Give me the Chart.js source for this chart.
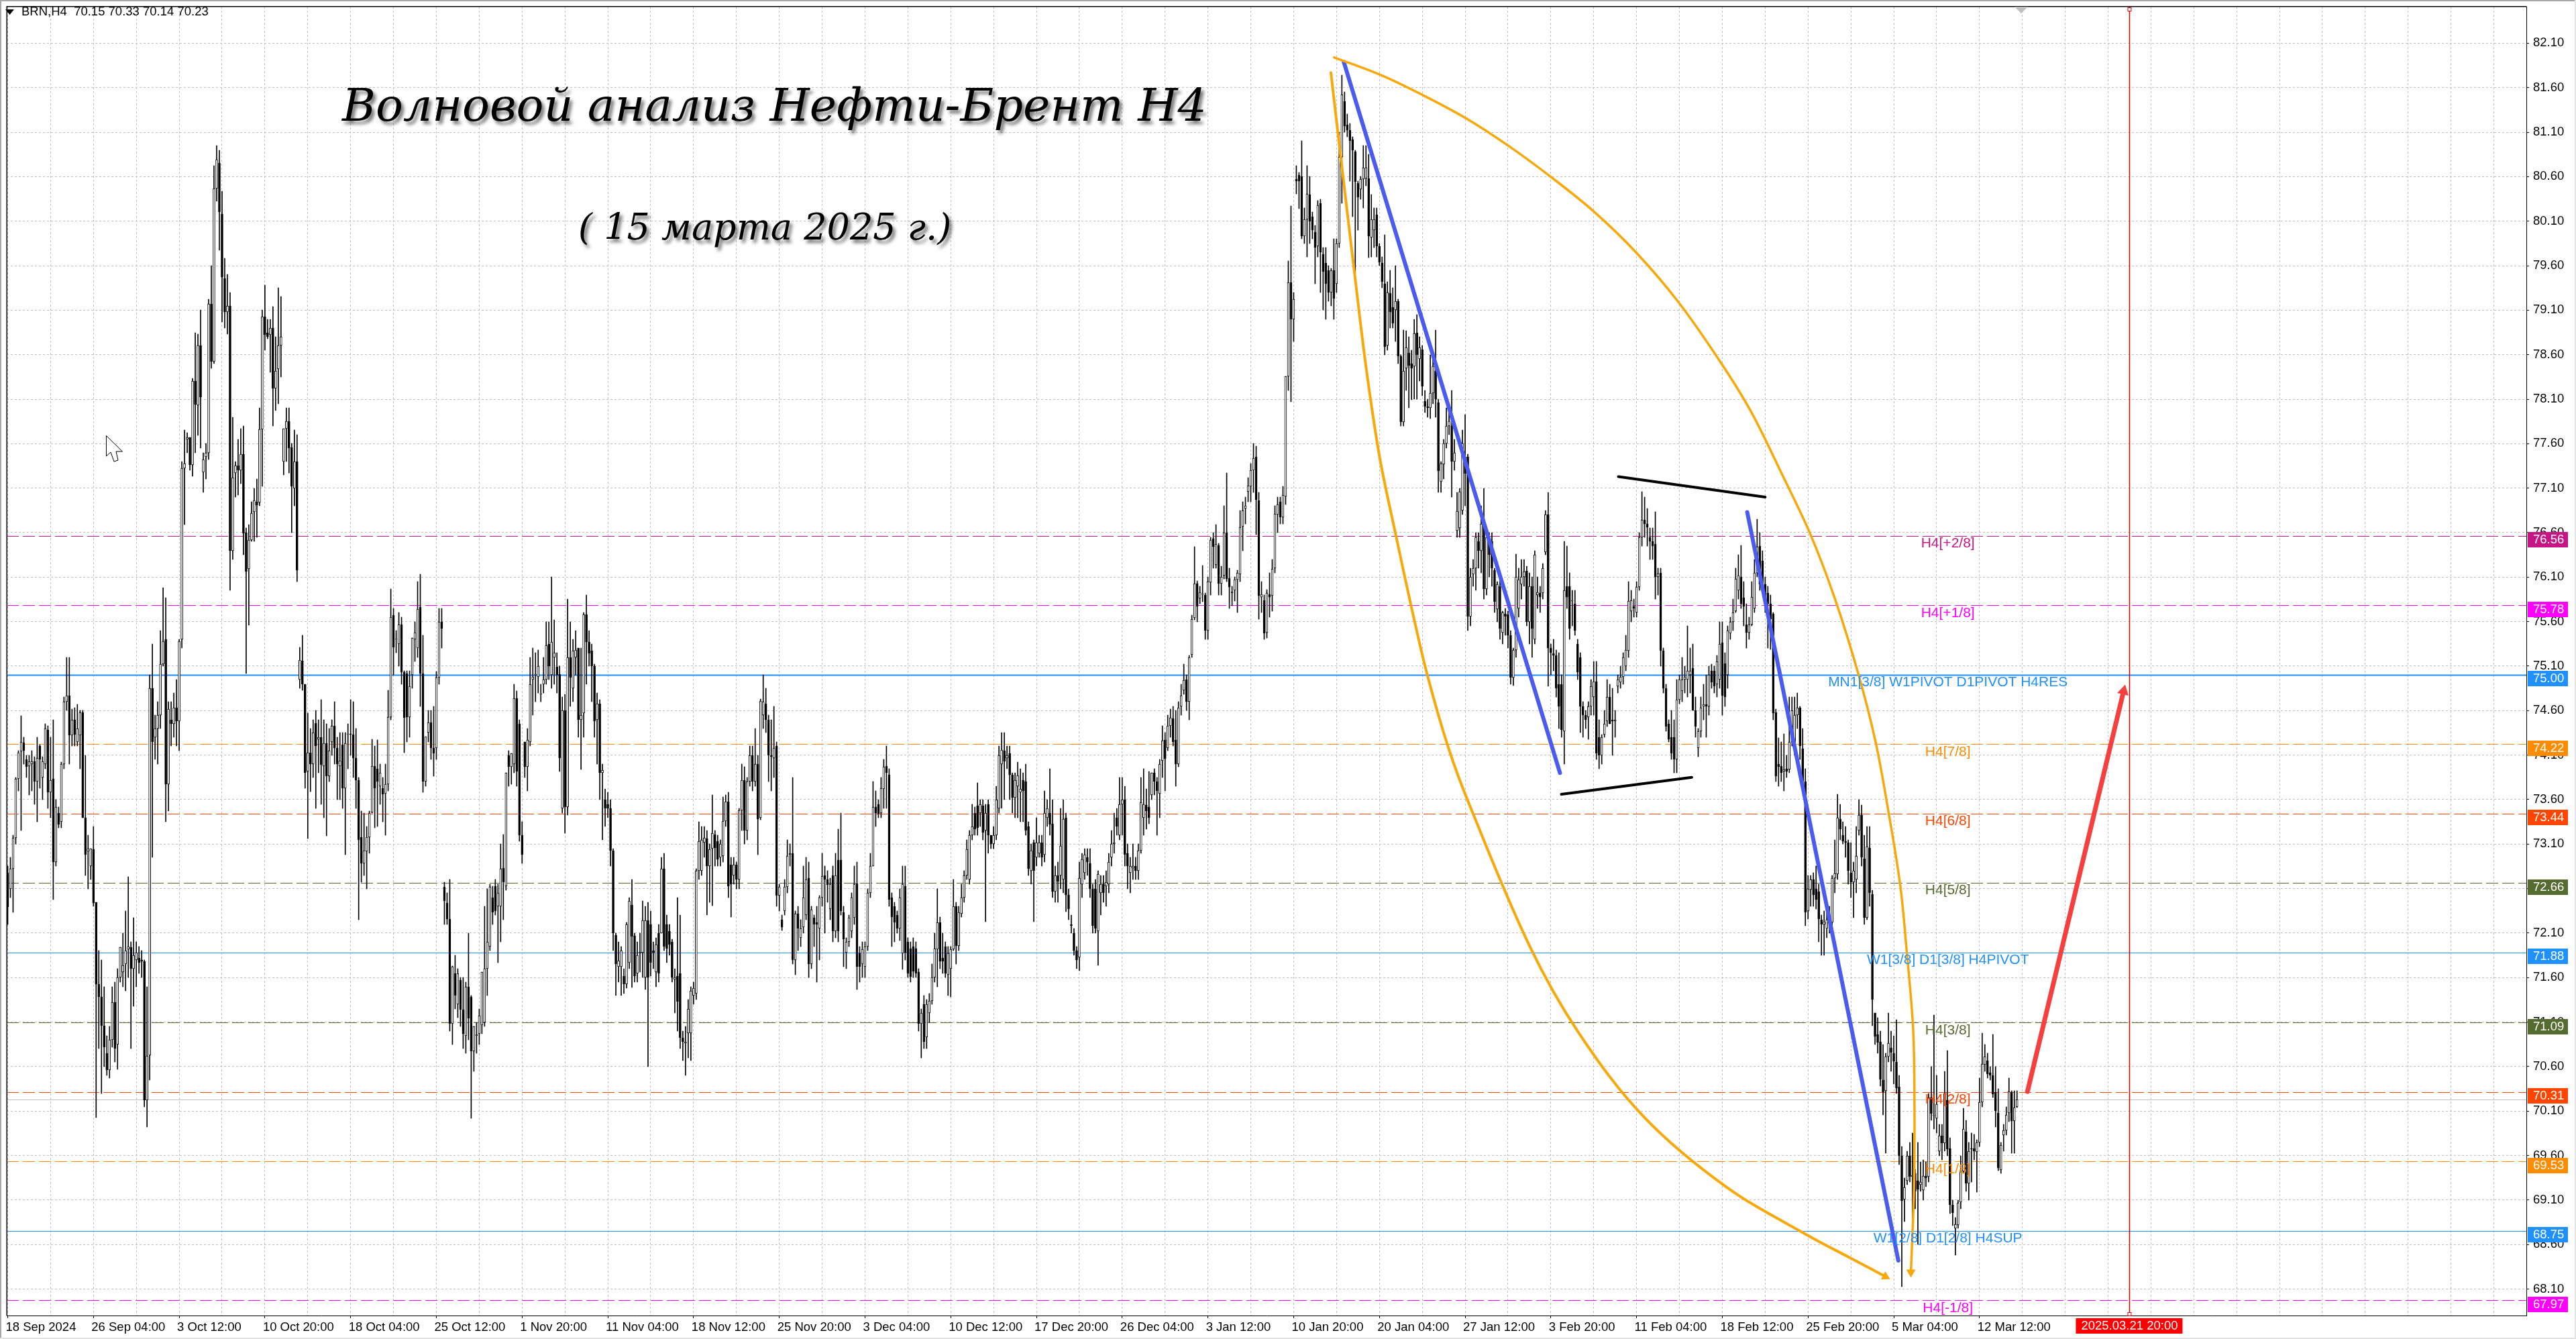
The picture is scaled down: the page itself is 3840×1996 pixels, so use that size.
<!DOCTYPE html>
<html><head><meta charset="utf-8"><title>BRN,H4</title>
<style>html,body{margin:0;padding:0;background:#fff}canvas{display:block}</style>
<script src="https://cdn.jsdelivr.net/npm/chart.js@4"></script>
</head><body><canvas id="c" width="3840" height="1996"></canvas>
<script>
const opens=[
72.78,72.6,72.82,73.17,73.83,74.14,74.24,74.05,73.98,74.0,
74.03,73.8,74.2,73.85,74.0,74.38,73.68,73.83,72.9,73.45,
73.35,74.0,74.7,74.77,74.32,74.5,74.25,74.32,74.58,73.4,
73.02,72.85,73.04,72.45,71.53,71.38,71.06,70.75,70.56,70.9,
71.32,70.85,71.6,71.66,71.75,71.92,71.94,71.7,71.8,71.82,
71.8,71.78,70.22,70.73,74.85,74.3,74.4,74.55,75.12,75.4,
73.77,74.5,74.45,74.63,74.48,75.4,77.32,77.65,77.67,77.36,
78.3,78.03,78.7,77.28,77.45,77.5,79.17,78.52,80.47,80.75,
80.18,79.46,79.08,79.15,76.4,77.27,77.35,77.3,77.48,76.6,
76.19,76.52,76.83,76.95,76.94,77.76,79.03,78.85,78.82,78.9,
78.22,78.44,78.7,77.4,77.77,77.85,77.56,77.1,77.4,74.95,
75.16,74.9,73.92,74.13,74.0,74.46,74.28,74.3,73.98,74.23,
73.86,74.25,74.43,74.18,73.98,74.22,73.73,74.33,74.34,74.33,
74.07,73.82,73.18,72.88,73.02,73.18,73.46,73.98,73.95,73.75,
73.73,73.67,73.77,74.53,75.67,75.4,75.35,75.57,75.03,75.02,
74.53,75.0,75.4,75.3,75.76,75.02,73.8,74.35,74.47,74.18,
74.18,74.97,75.6,72.62,72.44,72.26,71.08,71.65,71.3,71.57,
71.24,70.95,71.5,71.38,70.77,70.95,70.97,71.07,71.1,71.7,
71.95,72.5,72.63,72.4,72.4,72.83,72.63,74.1,73.97,74.0,
74.74,74.45,73.2,74.25,73.97,74.25,74.95,75.0,74.98,74.78,
74.9,74.95,75.35,75.0,75.2,75.09,75.01,73.5,74.6,73.52,
75.2,74.85,75.2,75.3,74.5,74.57,75.68,75.37,75.27,75.1,
74.5,74.68,73.9,73.6,73.55,73.5,73.03,72.08,71.72,71.72,
71.62,71.53,71.77,72.42,72.07,71.65,71.87,71.88,71.6,72.24,
72.2,71.9,71.66,72.1,72.1,72.82,72.2,72.12,72.0,71.58,
71.62,71.65,70.92,70.86,70.98,70.98,71.4,71.42,72.8,72.8,
73.12,73.16,72.85,73.05,73.21,73.13,72.95,72.97,73.36,73.58,
72.87,72.75,72.87,72.7,73.48,73.82,73.25,73.8,74.1,73.8,
74.0,73.4,74.55,74.68,74.5,74.1,74.07,74.2,72.52,72.25,
72.35,72.62,72.98,73.0,71.8,72.32,72.05,72.17,72.3,72.72,
71.75,72.27,72.22,72.15,72.5,72.75,72.7,72.37,72.75,72.12,
72.92,72.92,72.33,71.88,72.0,72.12,72.27,72.66,71.87,71.75,
71.72,71.95,72.55,72.85,73.52,73.55,73.45,73.72,73.98,73.88,
72.5,72.4,72.3,72.15,71.87,72.63,72.0,71.93,71.95,71.93,
71.66,71.08,71.3,70.93,71.2,71.34,71.6,71.92,72.22,71.82,
71.95,71.63,71.7,71.92,72.4,71.96,72.32,72.5,72.75,72.7,
73.2,73.45,73.53,73.45,73.53,73.25,73.55,73.2,73.1,73.2,
73.5,74.0,74.15,74.07,74.12,73.88,73.62,73.75,73.68,73.82,
73.8,73.3,72.8,73.12,72.95,73.0,73.12,72.98,73.4,73.45,
73.33,72.57,72.75,72.75,72.7,73.4,72.53,72.2,72.1,71.9,
71.83,72.65,72.78,72.95,72.88,72.6,72.6,72.12,72.55,72.65,
72.63,72.65,72.95,73.1,73.4,73.2,73.55,73.6,73.0,72.78,
72.83,72.85,72.8,73.03,73.4,73.54,73.52,73.65,73.9,73.8,
73.67,74.04,74.27,74.18,74.43,74.51,74.27,74.0,74.65,74.83,
74.95,74.7,75.23,75.64,76.03,75.86,75.91,75.9,75.5,76.04,
76.53,76.24,76.46,76.03,76.12,76.6,76.09,75.92,75.95,76.07,
76.13,76.67,76.87,77.06,77.12,77.3,77.45,76.96,75.88,75.84,
75.48,75.91,75.89,76.2,76.8,76.95,76.77,77.01,78.36,79.41,
79.0,80.57,80.62,80.6,79.93,80.12,80.4,80.15,79.98,79.82,
80.3,79.73,79.63,79.55,79.3,79.55,79.4,79.85,80.82,81.45,
81.18,81.12,81.02,80.88,80.53,80.46,80.57,80.58,80.58,79.92,
80.0,80.17,79.82,79.63,79.4,78.7,79.29,79.13,79.1,79.2,
78.58,77.84,78.45,78.62,78.5,78.47,78.85,78.55,78.66,78.08,
78.02,78.0,78.17,78.42,78.06,77.17,77.37,77.6,77.8,77.8,
77.4,76.62,76.65,76.85,77.45,77.45,75.66,76.13,76.2,76.5,
76.4,76.7,75.97,76.5,76.5,76.18,75.74,76.0,75.48,75.69,
75.68,75.45,74.97,75.28,75.75,76.02,76.1,76.17,75.6,76.0,
75.4,75.9,75.92,75.92,76.38,76.8,75.3,75.24,75.22,74.9,
74.9,74.37,76.0,76.0,75.83,75.8,75.35,75.2,74.65,74.55,
74.53,74.65,74.75,74.93,74.3,74.1,74.33,74.48,74.75,74.5,
74.48,74.87,74.92,74.98,75.1,75.27,75.72,75.77,75.7,75.99,
76.55,76.74,76.7,76.55,76.5,76.47,76.1,76.15,75.27,74.85,
74.45,74.3,74.3,74.05,74.72,74.82,74.95,74.95,75.0,75.08,
74.6,74.18,74.37,74.65,74.67,74.65,75.05,75.05,74.9,74.95,
75.36,75.13,75.0,75.47,75.6,75.72,75.95,76.1,75.87,75.57,
75.48,75.57,75.75,76.15,76.45,76.28,76.02,75.92,75.8,75.69,
74.58,74.0,73.98,73.92,73.95,73.94,74.25,74.2,74.55,74.63,
74.17,73.8,72.35,72.59,72.7,72.6,72.57,72.25,72.2,72.15,
72.3,72.22,72.72,72.76,73.38,73.2,73.13,73.12,72.78,72.67,
72.7,73.25,73.43,72.94,72.27,73.06,72.54,71.2,70.96,70.88,
70.45,70.33,70.71,70.81,70.75,70.65,70.37,69.6,69.11,69.32,
69.6,69.36,69.4,69.32,69.27,69.21,69.37,69.36,70.25,70.05,
70.02,69.65,69.82,69.74,70.22,69.68,69.05,68.78,68.82,69.08,
69.42,69.87,69.29,69.68,69.68,69.64,69.75,70.2,70.62,70.67,
70.53,70.5,70.31,70.08,69.44,69.83,69.88,70.08,70.31,69.99,70.15];
const highs=[
72.85,72.95,73.2,73.85,74.15,74.54,74.3,74.1,74.1,74.15,
74.08,74.3,74.22,74.08,74.45,74.43,74.3,74.5,73.6,73.52,
74.02,74.75,75.2,75.2,74.62,74.63,74.67,74.6,74.6,74.1,
73.2,73.05,73.3,72.45,71.9,71.8,71.5,70.95,71.05,71.5,
71.55,71.7,71.94,72.1,72.35,72.73,72.0,72.27,72.0,71.95,
71.9,71.8,71.5,75.0,75.35,74.55,74.7,75.5,75.98,75.87,
74.7,74.7,74.8,74.95,75.4,77.4,77.75,77.72,77.67,78.33,
78.85,78.83,79.1,77.5,77.6,79.22,79.6,80.72,80.95,80.9,
80.44,79.68,79.5,79.3,77.9,77.4,77.65,77.77,77.8,76.65,
76.69,76.95,77.1,77.2,78.0,79.1,79.38,79.0,79.0,79.14,
78.8,79.35,79.25,77.77,78.0,78.0,77.6,77.75,77.7,75.31,
75.45,74.9,74.57,74.4,74.5,74.6,74.5,74.72,74.5,74.45,
74.4,74.5,74.7,74.3,74.35,74.35,74.35,74.45,74.72,74.7,
74.4,73.85,73.47,73.45,73.3,73.47,74.28,74.2,74.27,74.0,
73.85,74.0,74.83,75.97,75.75,75.5,75.7,75.65,75.05,75.05,
75.05,75.42,75.6,76.05,76.13,75.45,74.3,74.6,74.6,74.65,
75.04,75.75,75.75,72.67,72.55,72.7,71.73,71.85,71.7,71.6,
71.6,71.55,72.1,71.4,71.05,71.1,71.25,71.66,72.4,72.6,
72.65,72.63,72.7,72.65,73.1,73.21,73.9,74.15,74.12,74.9,
74.82,74.5,73.35,74.25,74.4,75.2,75.3,75.25,75.28,74.9,
75.2,75.6,75.6,76.1,75.62,75.25,75.1,74.75,74.78,75.85,
75.6,75.4,75.5,75.3,75.3,75.7,75.9,75.5,75.35,75.12,
74.8,74.72,74.0,73.72,73.68,73.6,73.05,72.1,72.0,71.95,
71.7,72.22,72.5,72.7,72.1,72.0,72.1,72.46,72.4,72.45,
72.35,72.0,72.05,72.2,72.95,73.0,72.3,72.2,72.03,71.7,
72.5,72.3,71.0,71.05,71.35,71.5,71.55,72.82,73.35,73.3,
73.3,73.25,73.1,73.65,73.25,73.2,73.15,73.63,73.65,73.68,
72.95,72.95,72.9,73.5,74.0,73.97,73.85,74.2,74.2,74.4,
74.1,74.73,75.0,74.85,74.55,74.5,74.65,74.25,72.65,72.3,
72.7,73.15,73.1,73.85,72.35,72.4,72.25,72.85,72.95,72.9,
72.4,72.3,72.4,72.52,73.0,72.85,72.8,72.72,72.85,73.0,
73.27,73.45,72.4,72.05,72.3,72.55,72.85,72.9,71.95,72.0,
72.0,72.6,73.0,73.8,73.7,73.6,73.85,74.05,74.2,73.95,
72.55,72.45,72.35,72.6,72.85,72.85,72.05,72.0,72.05,72.0,
71.7,71.25,71.4,71.35,71.42,71.75,72.1,72.6,72.28,72.1,
72.0,71.95,71.95,72.7,72.45,72.4,72.65,72.8,73.15,73.25,
73.55,73.52,73.79,73.6,73.6,73.55,73.6,73.2,73.3,73.75,
74.2,74.35,74.35,74.2,74.2,73.9,73.9,74.02,73.95,73.9,
74.0,73.35,73.1,73.15,73.4,73.2,73.2,73.7,73.6,73.95,
73.6,72.85,72.9,73.5,73.6,73.45,72.6,72.3,72.15,71.95,
72.9,73.0,73.05,73.05,73.05,72.65,72.7,72.8,72.75,72.75,
72.8,73.0,73.25,73.45,73.5,73.85,73.85,73.75,73.1,72.95,
73.1,72.95,73.1,73.85,73.95,73.72,73.92,73.9,73.95,73.85,
74.05,74.43,74.35,74.55,74.62,74.65,74.6,74.7,74.9,75.12,
75.0,75.22,75.67,76.44,76.06,76.0,76.23,75.92,76.1,76.55,
76.6,76.69,76.48,76.22,76.9,77.27,76.2,76.0,76.1,76.18,
76.85,76.95,77.0,77.22,77.38,77.6,77.57,77.05,76.05,75.9,
75.96,76.15,76.3,76.9,77.0,77.0,77.12,78.36,79.65,80.27,
79.3,80.72,80.65,81.0,80.25,80.72,80.6,80.2,80.05,80.33,
80.35,79.8,79.8,79.6,79.57,79.9,79.9,81.1,81.74,81.55,
81.3,81.2,81.05,80.9,80.55,80.6,80.95,80.95,80.85,80.4,
80.25,80.25,79.85,79.7,79.95,79.42,79.55,79.35,79.6,79.22,
78.6,78.88,78.87,78.8,78.65,79.0,79.05,78.8,78.7,78.2,
78.1,78.6,78.62,78.88,78.1,77.4,77.65,78.0,78.05,78.2,
77.65,77.05,77.1,77.75,77.93,77.48,76.2,76.3,76.6,76.6,
76.9,77.1,76.55,76.6,76.6,76.2,76.05,76.1,75.72,75.75,
75.72,75.5,75.3,76.36,76.2,76.3,76.3,76.22,76.15,76.1,
76.4,76.1,76.0,76.25,76.85,77.05,75.35,75.4,75.28,75.25,
75.0,76.5,76.45,76.15,75.95,75.95,75.4,75.25,74.7,74.6,
74.7,74.95,75.15,75.15,74.5,74.33,74.6,74.95,74.9,74.85,
74.6,75.0,75.1,75.25,75.45,76.05,75.95,75.85,76.05,76.6,
77.06,77.0,76.87,76.65,76.65,76.83,76.2,76.2,75.3,74.9,
74.5,74.6,74.5,74.95,75.0,75.2,75.1,75.55,75.3,75.35,
74.75,74.4,74.75,74.9,75.0,75.1,75.12,75.1,75.22,75.6,
75.6,75.25,75.55,75.65,75.85,76.2,76.35,76.46,76.05,75.8,
75.65,76.05,76.3,76.75,76.6,76.4,76.1,76.0,75.9,75.7,
74.62,74.29,74.25,74.34,74.1,74.75,74.75,74.75,74.8,74.65,
74.4,73.95,72.75,72.75,72.78,72.85,72.65,72.3,72.35,72.35,
72.4,72.75,73.15,73.66,73.55,73.35,73.3,73.15,73.12,72.9,
73.3,73.6,73.54,73.2,73.3,73.3,72.58,71.2,71.15,71.0,
70.85,70.75,71.2,71.0,70.95,71.13,70.5,69.7,69.35,69.65,
69.75,69.85,69.45,69.75,69.53,69.55,69.53,70.3,70.6,71.18,
70.5,69.95,69.95,70.55,70.78,69.8,69.1,68.9,69.1,69.6,
70.13,70.0,69.75,69.85,69.84,69.78,70.47,70.98,70.85,70.75,
70.6,70.96,70.6,70.35,69.75,69.95,70.15,70.47,70.33,70.33,70.33];
const lows=[
72.2,72.5,72.33,73.1,73.7,73.25,74.0,73.85,73.65,73.7,
73.55,73.35,73.73,73.6,73.95,73.5,73.4,72.48,72.85,73.28,
73.28,73.95,74.6,74.0,74.2,74.2,74.2,73.95,73.4,72.75,
72.6,72.7,72.4,70.03,70.8,70.3,70.6,70.5,70.47,70.82,
70.65,70.57,71.55,71.5,71.45,71.6,70.8,71.28,71.5,71.65,
71.6,70.15,69.92,70.45,72.95,74.05,74.0,74.4,75.1,73.35,
73.47,74.2,74.3,74.2,74.15,75.3,76.69,77.5,77.3,77.23,
77.5,77.69,77.55,77.05,77.2,77.42,78.45,78.5,80.32,79.77,
78.97,78.9,78.83,75.95,76.3,77.0,77.02,77.15,76.35,75.02,
75.56,76.5,76.5,76.55,76.9,77.12,78.65,78.78,78.4,77.8,
77.97,78.05,78.35,77.25,77.4,77.27,76.6,76.9,76.05,74.85,
74.83,73.73,73.16,73.69,73.85,73.5,73.9,73.55,73.4,73.19,
73.8,74.1,74.0,73.6,73.6,73.5,72.98,73.95,74.1,73.85,
73.5,72.25,72.67,72.75,72.6,73.0,73.45,73.28,73.3,73.55,
73.35,73.2,73.7,74.5,75.0,75.25,75.1,74.9,74.13,74.25,
74.3,74.85,75.15,75.2,74.65,73.68,73.75,74.25,74.05,73.86,
74.05,74.9,75.3,72.2,72.2,71.0,70.85,71.25,71.15,71.05,
70.8,70.75,70.9,70.02,70.55,70.75,70.85,70.97,71.05,71.4,
71.9,72.2,72.3,71.77,72.0,72.25,72.58,73.75,73.77,73.9,
73.75,73.13,72.88,73.85,73.7,74.2,74.55,74.7,74.8,74.7,
74.8,74.9,74.95,74.85,74.9,74.8,73.92,73.45,73.22,73.43,
74.65,74.7,75.0,74.3,73.94,74.3,74.9,75.1,74.7,74.3,
74.0,73.6,73.15,73.3,73.4,72.85,71.9,71.4,71.55,71.4,
71.42,71.48,71.7,71.49,71.55,71.55,71.66,71.6,71.47,70.6,
71.62,71.7,71.5,71.55,72.1,71.9,71.77,71.85,71.55,71.2,
71.0,70.8,70.67,70.5,70.7,70.67,71.3,71.35,72.7,72.75,
72.95,72.3,72.45,72.41,72.85,72.85,72.85,72.9,73.3,72.5,
72.28,72.65,72.6,72.6,73.25,73.1,73.15,73.75,73.7,73.75,
72.98,73.37,74.4,74.35,73.8,73.7,73.85,72.4,72.35,72.13,
72.3,72.55,72.85,71.75,71.63,71.9,71.95,72.1,72.25,71.6,
71.7,71.95,71.55,71.8,72.4,72.1,72.45,72.25,72.0,72.05,
72.0,72.3,71.72,71.7,71.95,72.05,72.2,71.47,71.55,71.6,
71.6,71.9,72.5,72.85,73.3,73.4,73.4,73.5,73.5,72.4,
71.95,72.0,72.1,72.02,71.69,71.8,71.6,71.55,71.6,71.6,
71.0,70.7,70.8,70.8,71.1,71.3,71.55,71.5,71.7,71.65,
71.6,71.4,71.38,71.9,71.75,71.9,72.28,72.45,72.7,72.65,
73.15,73.2,73.2,73.3,73.15,72.23,73.0,73.05,73.05,73.15,
73.45,73.5,73.6,73.95,73.6,73.45,73.4,73.4,73.35,73.35,
73.2,72.75,72.65,72.23,72.85,72.95,72.85,72.9,73.3,73.2,
72.5,72.45,72.45,72.6,72.55,72.34,72.25,72.1,71.85,71.7,
71.68,72.5,72.7,72.75,72.5,72.1,72.1,71.74,72.3,72.45,
72.4,72.55,72.85,73.0,73.2,73.15,73.2,72.85,72.6,72.55,
72.7,72.7,72.7,73.0,73.2,73.27,73.33,73.6,73.65,73.2,
73.4,73.85,73.7,74.15,74.3,74.2,73.75,73.97,74.55,74.78,
74.6,74.5,75.2,75.62,75.6,75.8,75.82,75.4,75.4,75.9,
76.2,76.2,75.9,75.9,76.08,76.05,75.75,75.78,75.83,75.7,
76.05,76.4,76.7,76.95,76.95,77.05,76.58,75.63,75.7,75.4,
75.42,75.65,75.72,76.15,76.6,76.7,76.7,76.92,78.2,78.07,
78.75,80.41,80.24,79.9,79.85,79.7,79.85,79.9,79.4,79.7,
79.3,79.1,79.0,79.2,79.15,79.0,79.3,79.8,80.3,81.1,
81.05,80.55,80.15,79.5,80.0,80.35,80.25,80.5,79.69,79.7,
79.8,79.7,79.6,79.35,78.6,78.65,78.9,78.9,78.75,78.5,
77.8,77.8,78.2,78.0,78.09,78.1,78.1,78.3,78.14,77.95,
77.9,77.88,78.05,77.9,77.05,77.05,77.2,77.55,77.7,77.0,
77.3,76.55,76.55,76.8,76.9,75.5,75.55,76.0,75.95,76.2,
76.15,75.85,75.9,76.1,76.0,75.7,75.6,75.4,75.35,75.45,
75.3,74.9,74.88,75.2,75.65,75.85,76.0,75.55,75.35,75.2,
75.35,75.75,75.7,75.85,76.35,74.87,75.0,75.05,74.75,74.4,
74.3,74.0,75.75,75.4,75.55,75.45,74.95,74.35,74.3,74.4,
74.28,74.55,74.55,74.05,73.95,74.0,74.3,74.42,74.45,74.1,
74.3,74.8,74.85,74.9,75.05,75.2,75.6,75.65,75.65,75.95,
76.45,76.55,76.45,76.3,76.3,75.85,75.9,75.1,74.8,74.37,
74.25,74.05,73.9,73.9,74.68,74.7,74.8,74.75,74.8,74.6,
74.3,74.08,74.3,74.5,74.3,74.55,74.85,74.8,74.75,74.85,
74.55,74.65,74.85,75.4,75.5,75.7,75.85,75.75,75.55,75.3,
75.4,75.55,75.7,76.1,75.95,75.95,75.7,75.3,75.29,74.5,
73.8,73.75,73.8,73.7,73.85,73.9,74.2,74.1,74.4,74.05,
73.7,72.18,72.26,72.4,72.4,72.37,72.0,71.85,71.85,72.05,
72.1,72.15,72.55,72.7,73.15,73.1,72.95,72.65,72.5,72.27,
72.55,73.2,72.85,72.2,72.25,72.4,71.06,70.85,70.75,70.38,
70.06,69.63,70.65,70.55,70.4,70.3,69.5,68.13,68.86,69.27,
69.3,68.87,69.0,68.6,69.2,69.1,69.25,69.3,70.0,69.9,
69.85,69.6,69.55,69.65,69.6,68.95,68.81,68.48,68.78,69.0,
69.4,69.2,69.1,69.3,69.55,69.19,69.7,70.15,70.55,70.47,
70.45,70.25,69.92,69.43,69.4,69.65,69.83,69.98,69.63,69.63,70.14];
const closes=[
72.39,72.82,73.17,73.83,74.13,74.25,74.15,73.97,74.03,74.03,
73.8,74.07,74.05,74.03,74.4,73.68,73.82,72.9,73.52,73.32,
74.0,74.7,74.77,74.32,74.5,74.33,74.4,74.58,73.4,72.98,
73.05,73.05,72.44,71.53,71.38,71.06,70.82,70.56,70.9,71.32,
70.8,71.6,71.94,71.74,71.9,71.95,71.7,71.85,71.88,71.77,
71.78,70.22,70.72,74.85,74.25,74.4,74.55,75.12,75.38,73.77,
74.62,74.45,74.63,74.48,75.38,77.32,77.38,77.67,77.36,78.3,
78.04,78.7,78.12,77.42,77.5,79.17,78.52,80.47,80.79,80.2,
79.47,79.08,79.15,76.4,77.22,77.35,77.3,77.48,76.59,76.16,
76.52,76.82,76.96,76.91,77.76,79.03,78.82,78.8,78.9,78.22,
78.42,78.7,78.8,77.77,77.85,77.55,77.12,77.4,76.18,75.17,
74.9,73.9,74.13,74.0,74.35,74.2,74.3,73.99,74.23,73.86,
74.15,74.43,74.18,74.0,74.04,73.73,74.23,74.34,74.33,74.07,
73.82,73.15,72.88,73.03,73.18,73.45,73.98,73.73,73.8,73.9,
73.66,73.77,74.53,75.65,75.31,75.4,75.57,75.03,74.52,74.53,
74.87,75.42,75.48,75.74,75.02,73.8,74.31,74.47,74.18,74.12,
74.97,75.6,75.52,72.46,72.26,71.08,71.72,71.4,71.65,71.24,
70.97,71.5,71.14,70.77,71.05,70.96,71.17,71.66,71.7,72.0,
72.62,72.33,72.35,72.55,72.82,72.67,73.9,73.97,74.12,74.74,
73.92,73.2,72.98,73.97,74.27,74.9,74.98,75.0,75.1,74.78,
74.95,75.33,75.1,75.37,75.25,75.0,74.07,74.6,73.52,75.2,
74.97,75.27,75.28,74.5,74.55,75.68,75.37,75.24,75.1,74.48,
74.68,73.9,73.93,73.5,73.5,73.03,72.1,71.75,71.79,71.9,
71.53,72.2,72.46,72.06,71.62,71.85,71.89,72.24,72.24,71.6,
71.77,71.88,71.97,71.65,72.82,71.95,71.93,71.97,71.6,71.6,
71.33,70.92,70.88,70.88,71.25,71.45,71.48,72.8,73.13,73.15,
73.17,72.85,73.04,73.22,73.06,72.93,73.1,73.36,73.58,72.63,
72.65,72.87,72.7,73.48,73.82,73.25,73.8,74.1,73.8,74.0,
73.38,74.71,74.7,74.5,74.1,74.08,74.18,72.52,72.62,72.17,
72.62,72.97,73.0,71.8,72.32,72.15,72.15,72.5,72.7,71.75,
72.36,72.2,72.2,72.5,72.74,72.7,72.64,72.65,72.12,72.75,
72.12,72.35,72.03,72.0,72.27,72.5,72.65,71.72,71.72,71.92,
71.95,72.55,72.85,73.52,73.45,73.44,73.73,73.97,73.9,72.48,
72.28,72.22,72.15,72.5,72.65,71.88,71.65,71.61,71.67,71.65,
71.08,71.2,70.88,71.3,71.34,71.6,71.93,72.22,71.78,71.78,
71.65,71.87,71.92,72.4,71.96,72.33,72.5,72.75,73.04,73.2,
73.3,73.27,73.28,73.55,73.23,73.45,73.2,73.1,73.2,73.6,
74.1,74.16,74.03,74.1,73.88,73.62,73.82,73.87,73.72,73.7,
73.25,72.82,73.03,72.8,73.12,73.12,72.95,73.45,73.5,73.32,
72.57,72.75,72.68,73.08,73.38,72.53,72.37,72.18,71.9,71.8,
72.72,72.93,72.98,72.9,72.6,72.18,72.15,72.76,72.65,72.55,
72.67,72.9,73.1,73.12,73.3,73.55,73.6,72.98,72.85,72.85,
72.85,72.8,73.03,73.57,73.55,73.47,73.4,73.9,73.8,73.7,
74.0,74.26,74.06,74.43,74.52,74.25,74.0,74.63,74.77,74.94,
74.7,75.2,75.63,76.03,75.77,75.93,75.91,75.5,76.05,76.52,
76.44,76.47,76.03,76.1,76.6,76.08,75.99,75.94,76.07,76.15,
76.66,76.85,76.9,77.13,77.3,77.44,76.97,75.89,75.91,75.47,
75.92,75.88,76.19,76.81,76.92,76.77,77.02,78.36,79.41,79.0,
79.22,80.55,80.55,79.93,80.12,80.41,80.1,80.0,79.8,80.28,
79.75,79.53,79.4,79.3,79.55,79.23,79.85,80.82,81.52,81.17,
81.12,81.0,80.9,80.54,80.37,80.57,80.7,80.7,79.93,80.12,
80.12,79.82,79.64,79.42,78.69,79.3,79.08,78.95,79.2,78.58,
77.84,78.42,78.68,78.48,78.45,78.84,78.6,78.68,78.24,78.02,
78.0,78.17,78.47,78.1,77.29,77.38,77.6,77.8,77.85,77.4,
77.5,76.84,77.06,77.6,77.26,75.66,76.1,76.2,76.55,76.4,
76.7,75.97,76.55,76.35,76.2,75.82,76.02,75.52,75.7,75.66,
75.45,74.97,75.28,76.1,76.07,76.1,76.16,75.6,76.0,75.52,
76.35,75.93,75.88,76.2,76.8,75.3,75.25,75.22,74.85,74.65,
74.38,75.95,75.88,75.52,75.83,75.5,75.03,74.65,74.55,74.5,
74.65,74.87,74.93,74.12,74.1,74.3,74.45,74.75,74.45,74.48,
74.5,74.95,74.98,75.2,75.28,75.83,75.84,75.75,75.99,76.55,
76.74,76.7,76.66,76.5,76.45,76.1,76.14,75.27,74.85,74.42,
74.28,74.12,74.05,74.72,74.95,74.95,74.98,75.05,75.05,74.6,
74.42,74.37,74.63,74.67,74.65,75.0,74.92,74.87,75.15,75.35,
74.77,74.75,75.5,75.6,75.7,76.08,76.12,75.8,75.77,75.48,
75.57,75.88,76.15,76.44,76.02,76.02,75.82,75.8,75.63,74.57,
73.86,73.97,73.9,73.94,73.92,74.25,74.6,74.55,74.63,74.2,
73.8,72.33,72.6,72.7,72.53,72.48,72.26,72.2,72.23,72.25,
72.22,72.72,72.77,73.4,73.27,73.13,73.12,72.8,72.67,72.8,
72.97,73.43,72.95,72.27,73.07,72.55,71.35,70.94,70.87,70.46,
70.31,70.71,70.86,70.76,70.66,70.36,69.6,69.09,69.24,69.6,
69.36,69.38,69.2,69.22,69.3,69.37,69.35,70.25,70.07,70.05,
70.18,69.82,69.74,70.3,69.67,69.05,68.96,68.83,69.07,69.42,
69.9,69.29,69.65,69.67,69.65,69.75,70.2,70.63,70.71,70.52,
70.5,70.29,70.1,69.46,69.72,69.88,70.06,70.32,69.99,70.14,70.23];

const timeLabels=['18 Sep 2024','26 Sep 04:00','3 Oct 12:00','10 Oct 20:00','18 Oct 04:00','25 Oct 12:00','1 Nov 20:00','11 Nov 04:00','18 Nov 12:00','25 Nov 20:00','3 Dec 04:00','10 Dec 12:00','17 Dec 20:00','26 Dec 04:00','3 Jan 12:00','10 Jan 20:00','20 Jan 04:00','27 Jan 12:00','3 Feb 20:00','11 Feb 04:00','18 Feb 12:00','25 Feb 20:00','5 Mar 04:00','12 Mar 12:00'];
const priceTicks=[82.1,81.6,81.1,80.6,80.1,79.6,79.1,78.6,78.1,77.6,77.1,76.6,76.1,75.6,75.1,74.6,74.1,73.6,73.1,72.6,72.1,71.6,71.1,70.6,70.1,69.6,69.1,68.6,68.1];

const levelPrices=[76.56,75.78,75.00,74.22,73.44,72.66,71.88,71.09,70.31,69.53,68.75,67.97];
const levelColors=['#c71585','#ff00ff','#1e90ff','#ff8c00','#ff4500','#556b2f','#1e90ff','#556b2f','#ff4500','#ff8c00','#1e90ff','#ff00ff'];
const levelNames=['H4[+2/8]','H4[+1/8]','MN1[3/8] W1PIVOT D1PIVOT H4RES','H4[7/8]','H4[6/8]','H4[5/8]','W1[3/8] D1[3/8] H4PIVOT','H4[3/8]','H4[2/8]','H4[1/8]','W1[2/8] D1[2/8] H4SUP','H4[-1/8]'];
const bidPrice=70.23;
const forecastBar=792, forecastLabel='2025.03.21 20:00';

const blueOneBars=[498.7,579.4], blueOnePrices=[81.89,73.90];
const blueTwoBars=[649.3,705.7], blueTwoPrices=[76.83,68.42];
const blackTopBars=[601.2,656], blackTopPrices=[77.23,77.0];
const blackLowBars=[579.9,628.6], blackLowPrices=[73.66,73.85];
const redBars=[753.9,789.8], redPrices=[70.32,74.82];
const outerBars=[495.1,512.7,528.0,544.1,560.0,575.9,592.0,608.1,623.9,639.9,650.9,661.9,672.9,682.0,690.7,697.2,702.1,706.4,708.8,711.2,711.7,711.6,710.4];
const outerPrices=[81.94,81.74,81.52,81.26,80.95,80.6,80.21,79.74,79.18,78.49,77.95,77.28,76.58,75.86,75.02,74.25,73.45,72.64,71.91,71.04,70.34,69.29,68.29];
const innerBars=[493.9,497.7,502.7,507.2,512.2,518.3,523.9,529.9,537.9,545.9,568.0,586.4,610.9,641.4,672.1,687.8,700.9];
const innerPrices=[81.77,80.79,79.52,78.42,77.43,76.55,75.77,75.0,74.17,73.52,71.96,70.98,70.03,69.25,68.70,68.45,68.24];

const FONT='"Liberation Sans", Arial, sans-serif';
const xMin=-0.375, xMax=940.125, yMin=67.803, yMax=82.5098;
const pts=(xs,ys)=>xs.map((x,i)=>({x,y:ys[i]}));
const trend=(xs,ys,color,width,extra)=>Object.assign({type:'line',data:pts(xs,ys),borderColor:color,backgroundColor:color,borderWidth:width,pointRadius:0,borderCapStyle:'round',order:10,clip:false},extra||{});
const arrow=(n,r,rot)=>({pointRadius:Array.from({length:n},(_,i)=>i===n-1?r:0),pointRotation:Array.from({length:n},(_,i)=>i===n-1?rot:0),pointStyle:'triangle',pointBorderWidth:0});

const datasets=[];
levelPrices.forEach((p,i)=>datasets.push({type:'line',crisp:true,data:pts([xMin,xMax],[p,p]),borderColor:levelColors[i],borderWidth:p===75?2:1,borderDash:levelColors[i]==='#1e90ff'?[]:[18,6],pointRadius:0,order:100}));
datasets.push({type:'line',crisp:true,data:pts([xMin,xMax],[bidPrice,bidPrice]),borderColor:'#c0c0c0',borderWidth:1,pointRadius:0,order:101});
datasets.push({type:'line',data:pts([forecastBar,forecastBar],[yMin,yMax]),borderColor:'#e00000',borderWidth:1.5,pointRadius:0,order:90});
datasets.push({type:'bar',data:opens.map((_,i)=>({x:i,y:[lows[i],highs[i]]})),backgroundColor:'#000',borderWidth:0,grouped:false,maxBarThickness:1,barPercentage:1,categoryPercentage:1,order:50});
datasets.push({type:'bar',data:opens.map((o,i)=>({x:i,y:[o,closes[i]]})),backgroundColor:opens.map((o,i)=>closes[i]>=o?'#fff':'#000'),borderColor:'#000',borderWidth:1,borderSkipped:false,grouped:false,maxBarThickness:3,barPercentage:1,categoryPercentage:1,minBarLength:1,order:40});
datasets.push(trend(outerBars,outerPrices,'#f9a80a',3.5,Object.assign({tension:0.35},arrow(outerBars.length,8,180))));
datasets.push(trend(innerBars,innerPrices,'#f9a80a',4,Object.assign({tension:0.35},arrow(innerBars.length,8,118))));
datasets.push(trend(blueOneBars,blueOnePrices,'#4a5cf0',6));
datasets.push(trend(blueTwoBars,blueTwoPrices,'#4a5cf0',6));
datasets.push(trend(blackTopBars,blackTopPrices,'#000',4));
datasets.push(trend(blackLowBars,blackLowPrices,'#000',4));
datasets.push(trend(redBars,redPrices,'#f54040',7,arrow(redBars.length,10,13.6)));

const overlay={id:'overlay',
 afterDatasetsUpdate(c){
  c.data.datasets.forEach((ds,i)=>{
   const m=c.getDatasetMeta(i);
   if(ds.crisp){m.data.forEach(p=>{p.y=Math.floor(p.y)+0.5;});}
   if(ds.type==='bar'){m.data.forEach(b=>{const a=Math.round(Math.min(b.y,b.base));let e=Math.round(Math.max(b.y,b.base));if(e<=a)e=a+1;b.y=a;b.base=e;b.height=e-a;});}
  });
 },
 beforeDraw(c){const x=c.ctx;x.save();x.fillStyle='#fff';x.fillRect(0,0,3840,1996);x.restore();},
 afterDraw(c){
  const g=c.ctx,sx=c.scales.x,sy=c.scales.y,a=c.chartArea;
  g.save();
  // window frame
  g.fillStyle='#a8a8a8';g.fillRect(0,0,3840,2);g.fillRect(0,0,2,1996);
  g.fillStyle='#e4e4e4';g.fillRect(3838,0,2,1996);g.fillRect(0,1994,3840,2);
  g.fillStyle='#000';g.fillRect(a.left-0.5,a.top-1,a.right-a.left+1,1.5);g.fillRect(a.left-0.5,a.top,1.5,a.bottom-a.top);
  // level names
  g.font='21px '+FONT;g.textAlign='center';g.textBaseline='middle';
  levelPrices.forEach((p,i)=>{g.fillStyle=levelColors[i];g.fillText(levelNames[i],sx.getPixelForValue(724.2),sy.getPixelForValue(p)+11);});
  // price tags
  g.font='18.5px '+FONT;g.textAlign='left';
  levelPrices.forEach((p,i)=>{const y=Math.round(sy.getPixelForValue(p));g.fillStyle=levelColors[i];g.fillRect(a.right+2,y-6,60,23);g.fillStyle='#fff';g.fillText(p.toFixed(2),a.right+10,y+6);});
  // forecast time tag
  const fx=sx.getPixelForValue(forecastBar);
  g.fillStyle='#ff0000';g.fillRect(fx-80,a.bottom+4,159,23);
  g.fillStyle='#fff';g.textAlign='center';g.fillText(forecastLabel,fx,a.bottom+16);
  g.strokeStyle='#e00000';g.lineWidth=1;g.fillStyle='#fff';
  g.fillRect(fx-2,a.top+2,4,4);g.strokeRect(fx-2.5,a.top+1.5,5,5);
  g.fillRect(fx-2,a.bottom-4,4,4);g.strokeRect(fx-2.5,a.bottom-4.5,5,5);
  // shift marker
  g.fillStyle='#c0c0c0';g.beginPath();g.moveTo(3003,a.top);g.lineTo(3023,a.top);g.lineTo(3013,a.top+10);g.closePath();g.fill();
  // header
  g.fillStyle='#000';g.beginPath();g.moveTo(8,14);g.lineTo(21,14);g.lineTo(14.5,22);g.closePath();g.fill();
  g.font='18.5px '+FONT;g.textAlign='left';g.fillText('BRN,H4  70.15 70.33 70.14 70.23',32,18);
  // mouse cursor
  g.fillStyle='#fff';g.strokeStyle='#000';g.lineWidth=1;g.beginPath();g.moveTo(158.5,649.5);g.lineTo(182.5,673);g.lineTo(173,673);g.lineTo(176,686);g.lineTo(170,688);g.lineTo(165,674);g.lineTo(158.5,680);g.closePath();g.fill();g.stroke();
  // title
  g.textAlign='left';g.textBaseline='alphabetic';g.fillStyle='#000';
  g.shadowColor='rgba(0,0,0,0.55)';g.shadowOffsetX=4;g.shadowOffsetY=5;g.shadowBlur=5;
  g.font='italic 68px "DejaVu Serif", serif';g.fillText('Волновой анализ Нефти-Брент H4',510,180);
  g.font='italic 54px "DejaVu Serif", serif';g.fillText('( 15 марта 2025 г.)',862,357);
  g.restore();
 }};

new Chart(document.getElementById('c'),{
 type:'bar',
 data:{datasets},
 plugins:[overlay],
 options:{
  responsive:false,animation:false,devicePixelRatio:1,events:[],
  layout:{padding:{left:4,top:5,right:0,bottom:0}},
  plugins:{legend:{display:false},tooltip:{enabled:false},title:{display:false}},
  scales:{
   x:{type:'linear',min:xMin,max:xMax,offset:false,position:'bottom',
    afterBuildTicks(s){const t=[];for(let i=0;i<=928;i+=16)t.push({value:i});s.ticks=t;},
    afterFit(s){s.height=35;s.paddingLeft=0;s.paddingRight=0;},
    grid:{color:'#c0c0c0',offset:false,tickLength:4,tickColor:(ctx)=>ctx.tick&&ctx.tick.value%32===0&&ctx.tick.value<=736?'#000':'rgba(0,0,0,0)'},
    border:{display:true,color:'#000',width:1,dash:[3,3]},
    ticks:{autoSkip:false,maxRotation:0,minRotation:0,align:'start',padding:3,labelOffset:-3,color:'#000',font:{family:FONT,size:18.5},
     callback:(v)=>(v%32===0&&timeLabels[v/32])?timeLabels[v/32]:''}},
   y:{type:'linear',min:yMin,max:yMax,position:'right',
    afterBuildTicks(s){s.ticks=priceTicks.map(v=>({value:v}));},
    afterFit(s){s.width=74;s.paddingTop=0;s.paddingBottom=0;},
    grid:{color:'#c0c0c0',tickLength:4,tickColor:'#000'},
    border:{display:true,color:'#000',width:1,dash:[3,3]},
    ticks:{padding:6,color:'#000',font:{family:FONT,size:18.5},autoSkip:false,callback:(v)=>v.toFixed(2)}}
  }
 }
});
</script></body></html>
